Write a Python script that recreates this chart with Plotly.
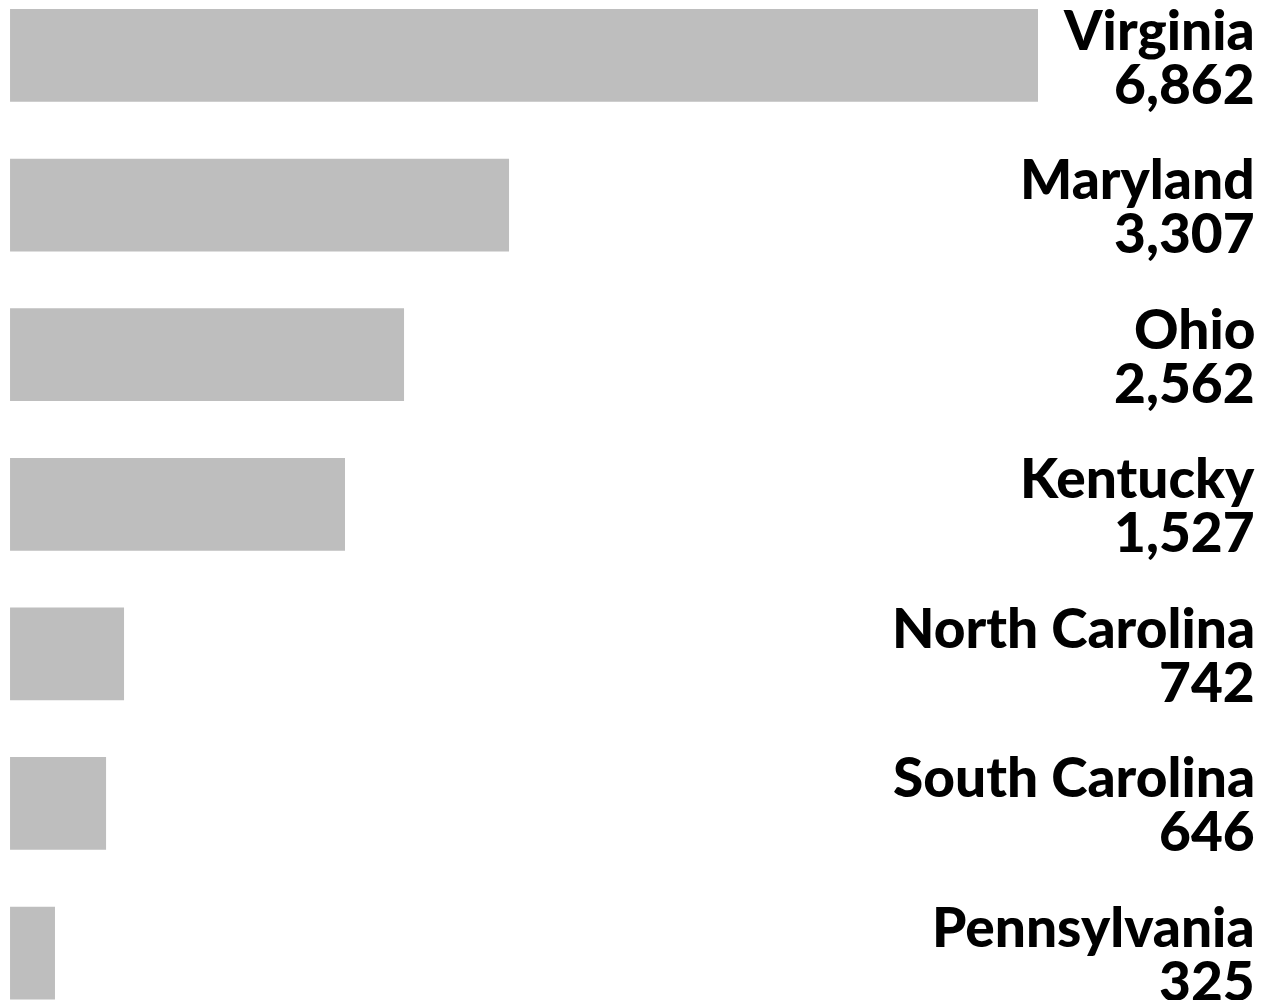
import plotly.graph_objects as go

states = ["Virginia", "Maryland", "Ohio", "Kentucky", "North Carolina", "South Carolina", "Pennsylvania"]
label_values = [6862, 3307, 2562, 1527, 742, 646, 325]
# bar lengths as drawn in the picture (not exactly proportional to labels)
bar_values = [6862, 3331, 2630, 2236, 761, 641, 300]

fig = go.Figure(go.Bar(
    x=bar_values, y=states, orientation="h",
    marker=dict(color="#bebebe", line=dict(width=0)),
    width=0.62, hoverinfo="skip",
))

font = dict(family="Lato Black, Lato", size=55, color="#000000", weight="bold")
for s, v in zip(states, label_values):
    fig.add_annotation(
        x=1257 / 1272, xref="paper", y=s, yref="y",
        text=s, showarrow=False, xanchor="right", yanchor="middle",
        yshift=27, font=font,
    )
    fig.add_annotation(
        x=1257 / 1272, xref="paper", y=s, yref="y",
        text=f"{v:,}", showarrow=False, xanchor="right", yanchor="middle",
        yshift=-27, font=font,
    )

fig.update_layout(
    width=1272, height=1000,
    margin=dict(l=0, r=0, t=0, b=0),
    paper_bgcolor="white", plot_bgcolor="white",
    showlegend=False,
    xaxis=dict(range=[-67, 8424], visible=False, domain=[0, 1]),
    yaxis=dict(range=[6.314, -0.371], visible=False, domain=[0, 1]),
)

fig.write_html("out.html")
